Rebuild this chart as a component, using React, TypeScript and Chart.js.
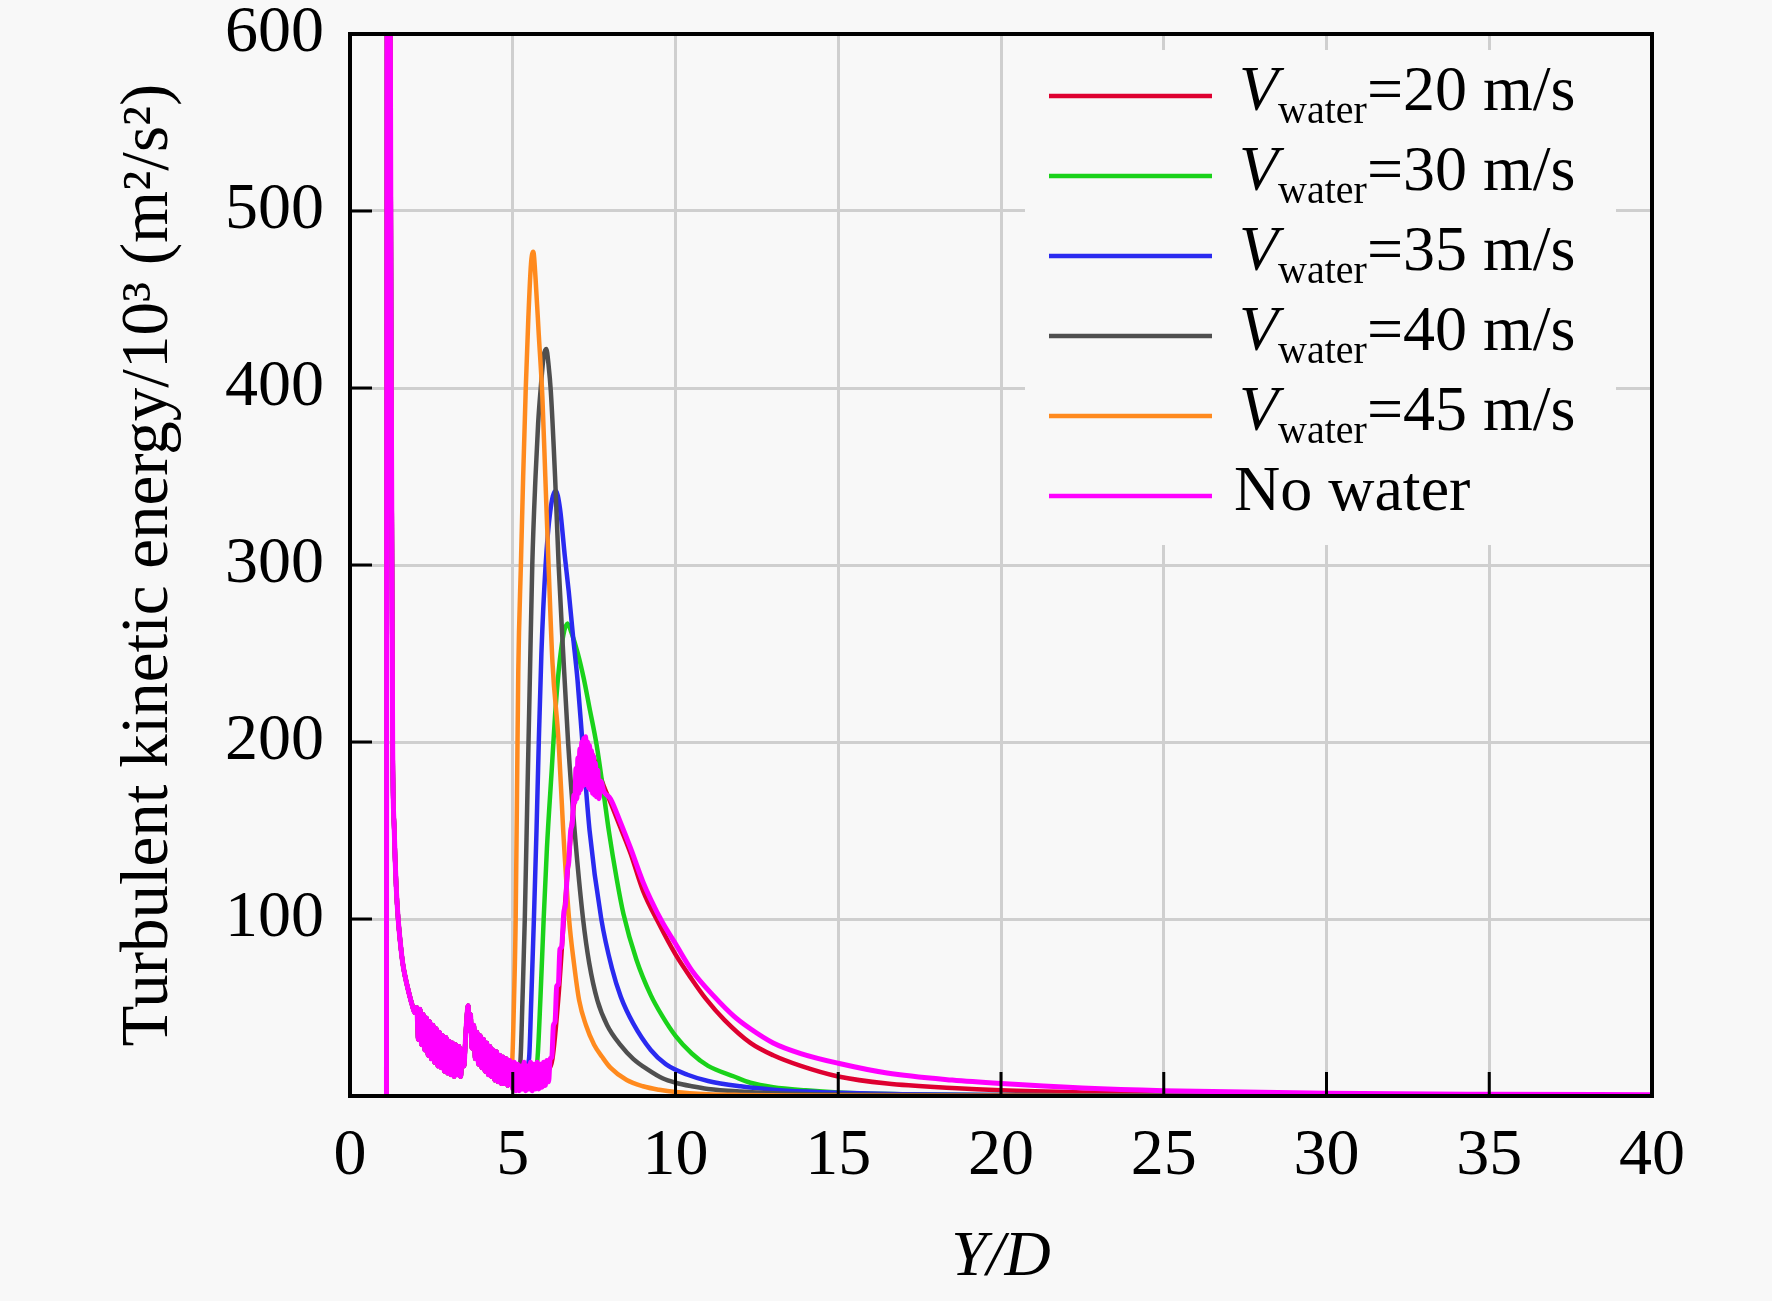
import React, { useEffect, useRef } from 'react';
import { Chart, registerables } from 'chart.js';

Chart.register(...registerables);

const FONT = '"Liberation Serif", "Times New Roman", serif';
const BG = '#f8f8f8';

// ---------- data (Y/D, TKE/10^3) ----------
const nearField: [number, number][] = [
  [1.12, 0], [1.14, 700], [1.22, 700], [1.26, 450], [1.31, 200], [1.36, 150], [1.42, 118], [1.48, 100],
  [1.55, 86], [1.62, 75], [1.7, 67], [1.8, 59], [1.9, 52], [2.0, 47], [2.05, 50], [2.1, 32], [2.15, 49],
  [2.2, 29], [2.25, 46], [2.3, 26], [2.35, 44], [2.4, 23], [2.45, 42], [2.5, 21], [2.55, 40], [2.6, 19],
  [2.65, 38], [2.7, 17], [2.75, 36], [2.8, 16], [2.85, 34], [2.9, 14], [2.95, 33], [3.0, 13], [3.05, 31],
  [3.1, 12], [3.15, 30], [3.2, 11], [3.25, 29], [3.3, 12], [3.35, 28], [3.4, 11], [3.45, 26], [3.5, 17],
  [3.55, 33], [3.6, 47], [3.63, 51], [3.66, 37], [3.7, 46], [3.75, 27], [3.8, 40], [3.85, 21], [3.9, 36],
  [3.95, 18], [4.0, 34], [4.05, 16], [4.1, 32], [4.15, 14], [4.2, 30], [4.25, 12], [4.3, 28], [4.35, 11],
  [4.4, 26], [4.45, 9], [4.5, 25], [4.55, 8], [4.6, 23], [4.65, 7], [4.7, 22], [4.75, 7], [4.8, 21],
  [4.85, 6], [4.9, 20],
];

const v20Tail: [number, number][] = [
  [4.95, 14], [5.2, 10], [5.5, 13], [5.8, 11], [6.05, 14], [6.22, 21], [6.4, 55], [6.57, 100], [6.7, 130],
  [6.85, 160], [7.0, 180], [7.15, 192], [7.3, 196], [7.45, 193], [7.6, 185], [7.8, 175], [8.0, 166],
  [8.3, 152], [8.62, 137], [9.0, 116], [9.5, 97], [10, 80], [10.5, 66], [10.93, 55], [11.5, 43], [12.3, 30],
  [13, 23], [13.85, 17], [15, 11], [16.5, 7], [18.5, 4.5], [20, 3.2], [22.5, 2], [25, 1.3], [30, 0.6],
  [35, 0.35], [40, 0.2],
];

const v30Tail: [number, number][] = [
  [4.95, 14], [5.1, 16], [5.3, 11], [5.5, 15], [5.65, 13], [5.76, 21], [5.85, 55], [5.95, 100], [6.05, 140],
  [6.2, 185], [6.3, 215], [6.41, 240], [6.55, 260], [6.68, 267], [6.8, 262], [7.0, 250], [7.18, 236],
  [7.35, 220], [7.58, 198], [7.8, 170], [7.95, 150], [8.2, 122], [8.4, 103], [8.8, 77], [9.24, 57],
  [9.6, 45], [10, 34], [10.5, 24], [11, 17], [11.8, 11], [12.3, 7.5], [13, 5], [14, 3.2], [15, 2],
  [17, 1], [20, 0.5], [25, 0.2], [30, 0.1], [40, 0.05],
];

const v35Tail: [number, number][] = [
  [4.95, 14], [5.1, 17], [5.25, 12], [5.4, 16], [5.5, 21], [5.57, 55], [5.65, 100], [5.73, 150], [5.8, 200],
  [5.88, 250], [6.01, 300], [6.15, 330], [6.32, 342], [6.45, 332], [6.6, 305], [6.72, 285], [6.85, 260],
  [6.99, 235], [7.14, 200], [7.36, 150], [7.72, 100], [8.05, 72], [8.32, 56], [8.7, 41], [9.24, 26],
  [9.7, 18], [10.37, 12], [11, 8.5], [12, 5.5], [13, 3.6], [14, 2.5], [15, 1.8], [17, 1.0], [20, 0.5],
  [25, 0.25], [30, 0.12], [40, 0.05],
];

const v40Tail: [number, number][] = [
  [4.95, 13], [5.05, 17], [5.15, 12], [5.24, 21], [5.3, 55], [5.37, 100], [5.45, 170], [5.53, 240],
  [5.6, 300], [5.7, 350], [5.78, 380], [5.86, 400], [5.95, 418], [6.03, 422], [6.1, 413], [6.17, 398],
  [6.3, 350], [6.41, 300], [6.55, 250], [6.7, 200], [6.9, 150], [7.16, 100], [7.35, 75], [7.6, 54],
  [7.9, 40], [8.3, 29], [8.7, 21], [9.14, 15], [9.6, 10], [10, 7.5], [10.5, 5.5], [11, 4], [12, 2.5],
  [13, 1.6], [15, 0.8], [20, 0.3], [30, 0.1], [40, 0.05],
];

const v45Tail: [number, number][] = [
  [4.95, 14], [4.99, 22], [5.04, 55], [5.09, 100], [5.13, 170], [5.17, 240], [5.25, 300], [5.32, 350],
  [5.4, 400], [5.48, 440], [5.56, 470], [5.63, 477], [5.7, 462], [5.8, 430], [5.91, 395], [6.0, 350],
  [6.1, 300], [6.22, 245], [6.41, 200], [6.55, 150], [6.73, 100], [6.88, 75], [7.04, 54], [7.25, 40],
  [7.5, 29], [7.75, 22], [8.0, 16], [8.5, 9], [9.0, 5.5], [9.5, 3.5], [10, 2.2], [11, 1], [12, 0.6],
  [14, 0.3], [17, 0.15], [20, 0.1], [30, 0.05], [40, 0.02],
];

const noWaterTail: [number, number][] = [
  [4.95, 18], [5.0, 4], [5.05, 19], [5.1, 3], [5.15, 18], [5.2, 3], [5.25, 17], [5.3, 4], [5.35, 19],
  [5.4, 3], [5.45, 17], [5.5, 4], [5.55, 19], [5.6, 3], [5.65, 18], [5.7, 4], [5.75, 19], [5.8, 4],
  [5.85, 18], [5.9, 5], [5.95, 19], [6.0, 6], [6.05, 20], [6.1, 8], [6.15, 21], [6.2, 22], [6.25, 40],
  [6.3, 42], [6.35, 62], [6.4, 63], [6.45, 83], [6.5, 84], [6.57, 104], [6.62, 108], [6.68, 128],
  [6.72, 132], [6.78, 150], [6.83, 154], [6.88, 170], [6.91, 166], [6.94, 185], [6.97, 168], [7.0, 191],
  [7.03, 171], [7.06, 196], [7.09, 173], [7.12, 200], [7.15, 175], [7.18, 202], [7.21, 176], [7.24, 203],
  [7.27, 176], [7.3, 200], [7.33, 174], [7.36, 198], [7.39, 173], [7.42, 195], [7.45, 171], [7.48, 192],
  [7.51, 170], [7.54, 188], [7.57, 169], [7.61, 184], [7.65, 168], [7.7, 178], [7.8, 172], [8.0, 168],
  [8.3, 155], [8.62, 140], [9.0, 121], [9.24, 111], [9.6, 98], [10, 86], [10.5, 71], [11.2, 56],
  [11.8, 45], [12.3, 38], [13, 30], [13.85, 24], [15, 18.5], [16.5, 13], [18.5, 9], [20, 7], [22.5, 4.5],
  [25, 3], [30, 1.6], [35, 1.0], [40, 0.7],
];

const legendSpeeds = ['20', '30', '35', '40', '45'];
const seriesColors = ['#de0030', '#1ad21a', '#2a2af0', '#4f4f4f', '#ff8a1e', '#ff00ff'];
const xTitle = 'Y/D';
const yTitle = 'Turbulent kinetic energy/10³ (m²/s²)';

const toPts = (a: [number, number][]) => a.map(([x, y]) => ({ x, y }));

const legendPlugin = {
  id: 'subscriptLegend',
  afterDatasetsDraw(chart: any) {
    const ctx = chart.ctx as CanvasRenderingContext2D;
    ctx.save();
    ctx.fillStyle = BG;
    ctx.fillRect(1025, 50, 591, 495);
    const rows = [...legendSpeeds, ''];
    rows.forEach((speed, i) => {
      const y = 96 + i * 80;
      ctx.strokeStyle = seriesColors[i];
      ctx.lineWidth = 4.5;
      ctx.beginPath();
      ctx.moveTo(1049, y);
      ctx.lineTo(1212, y);
      ctx.stroke();
      ctx.fillStyle = '#000';
      ctx.textAlign = 'left';
      ctx.textBaseline = 'alphabetic';
      if (speed) {
        ctx.font = `italic 64px ${FONT}`;
        ctx.fillText('V', 1239, y + 14);
        const vw = ctx.measureText('V').width;
        ctx.font = `40px ${FONT}`;
        ctx.fillText('water', 1239 + vw, y + 27);
        const ww = ctx.measureText('water').width;
        ctx.font = `64px ${FONT}`;
        ctx.fillText(`=${speed} m/s`, 1239 + vw + ww, y + 14);
      } else {
        ctx.font = `64px ${FONT}`;
        ctx.fillText('No water', 1234, y + 14);
      }
    });
    ctx.restore();
  },
};

const framePlugin = {
  id: 'frameTicks',
  afterDatasetsDraw(chart: any) {
    const { ctx, chartArea, scales } = chart;
    const { left, right, top, bottom } = chartArea;
    ctx.save();
    ctx.strokeStyle = '#000';
    ctx.lineWidth = 3;
    scales.x.ticks.forEach((t: any) => {
      const px = scales.x.getPixelForValue(t.value);
      ctx.beginPath();
      ctx.moveTo(px, bottom);
      ctx.lineTo(px, bottom - 24);
      ctx.stroke();
    });
    scales.y.ticks.forEach((t: any) => {
      const py = scales.y.getPixelForValue(t.value);
      ctx.beginPath();
      ctx.moveTo(left, py);
      ctx.lineTo(left + 22, py);
      ctx.stroke();
    });
    ctx.lineWidth = 4;
    ctx.strokeRect(left, top, right - left, bottom - top);
    ctx.restore();
  },
};

export default function App() {
  const ref = useRef<HTMLCanvasElement | null>(null);

  useEffect(() => {
    if (!ref.current) return;
    const tails = [v20Tail, v30Tail, v35Tail, v40Tail, v45Tail, noWaterTail];
    const labels = [...legendSpeeds.map((s) => `Vwater=${s} m/s`), 'No water'];
    const orders = [5, 4, 3, 2, 1, 0];
    const datasets = tails.map((tail, i) => ({
      label: labels[i],
      data: toPts([...nearField, ...tail]),
      borderColor: seriesColors[i],
      backgroundColor: seriesColors[i],
      borderWidth: i === 5 ? 5 : 4.5,
      pointRadius: 0,
      fill: false,
      cubicInterpolationMode: 'monotone' as const,
      order: orders[i],
    }));

    const chart = new Chart(ref.current, {
      type: 'line',
      data: { datasets },
      options: {
        animation: false,
        responsive: false,
        devicePixelRatio: 1,
        parsing: false,
        normalized: true,
        layout: { padding: { top: 34, right: 120, bottom: 0, left: 0 } },
        plugins: { legend: { display: false }, tooltip: { enabled: false } },
        scales: {
          x: {
            type: 'linear',
            min: 0,
            max: 40,
            ticks: { stepSize: 5, color: '#000', padding: 28, font: { family: FONT, size: 66, lineHeight: 1 } },
            grid: { color: '#cfcfcf', lineWidth: 3, drawTicks: false },
            border: { display: false },
            title: {
              display: true,
              text: xTitle,
              color: '#000',
              font: { family: FONT, size: 64, style: 'italic', lineHeight: 1 },
              padding: { top: 0, bottom: 11 },
            },
            afterFit: (s: any) => { s.height = 205; s.paddingLeft = 0; s.paddingRight = 0; },
          },
          y: {
            type: 'linear',
            min: 0,
            max: 600,
            ticks: {
              stepSize: 100,
              color: '#000',
              padding: 26,
              font: { family: FONT, size: 66, lineHeight: 1 },
              callback: (v: any) => (v === 0 ? '' : String(v)),
            },
            grid: { color: '#cfcfcf', lineWidth: 3, drawTicks: false },
            border: { display: false },
            title: {
              display: true,
              text: yTitle,
              color: '#000',
              font: { family: FONT, size: 67, lineHeight: 1 },
              padding: { top: 116, bottom: 0 },
            },
            afterFit: (s: any) => { s.width = 350; s.paddingTop = 0; s.paddingBottom = 0; },
          },
        },
      },
      plugins: [legendPlugin, framePlugin],
    });
    return () => chart.destroy();
  }, []);

  return (
    <div style={{ position: 'absolute', left: 0, top: 0, width: 1772, height: 1301, background: BG, overflow: 'hidden' }}>
      <canvas ref={ref} width={1772} height={1301} style={{ width: 1772, height: 1301, display: 'block' }} />
    </div>
  );
}
